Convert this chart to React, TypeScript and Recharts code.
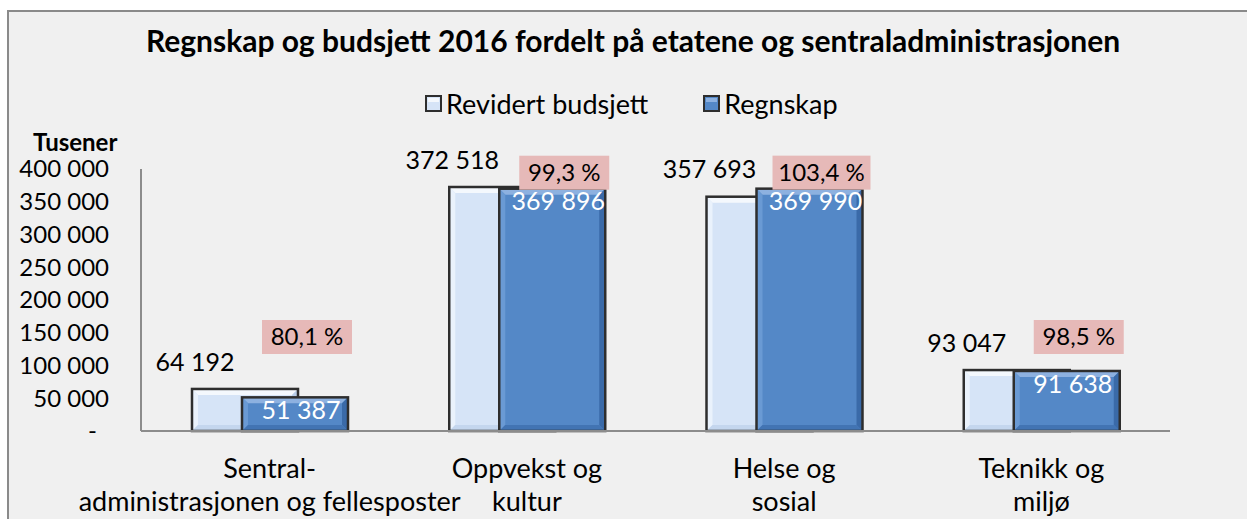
import React from 'react';
import { BarChart, Bar, XAxis, YAxis, Legend, LabelList } from 'recharts';

const categories = [
  'Sentral-\nadministrasjonen og fellesposter',
  'Oppvekst og\nkultur',
  'Helse og\nsosial',
  'Teknikk og\nmiljø',
];
const revidertBudsjett = [64192, 372518, 357693, 93047];
const regnskap = [51387, 369896, 369990, 91638];
const andel = ['80,1 %', '99,3 %', '103,4 %', '98,5 %'];
const seriesNames = ['Revidert budsjett', 'Regnskap'];
const yTicks = [0, 50000, 100000, 150000, 200000, 250000, 300000, 350000, 400000];

const FONT = 'Lato, "Open Sans", sans-serif';

const data = categories.map((name, i) => ({
  name,
  budsjett: revidertBudsjett[i],
  regnskap: regnskap[i],
  andel: andel[i],
}));

const fmt = (v: number) => String(v).replace(/\B(?=(\d{3})+(?!\d))/g, ' ');

// bevel colours per series
const LIGHT = { main: '#d6e4f7', top: '#f4f8fd', left: '#eaf2fc', right: '#b9cde8', bottom: '#c4d6ee' };
const DARK = { main: '#5488c7', top: '#8db1e0', left: '#6a9ad4', right: '#3a6aa8', bottom: '#4274b3' };

function BevelBar(props: any) {
  const { x, y, width: w, height: h, colors } = props;
  if (!h || h <= 0) return null;
  const b = Math.min(6, h / 3, w / 3);
  return (
    <g>
      <rect x={x} y={y} width={w} height={h} fill={colors.main} />
      <polygon points={`${x},${y} ${x + w},${y} ${x + w - b},${y + b} ${x + b},${y + b}`} fill={colors.top} />
      <polygon points={`${x},${y} ${x + b},${y + b} ${x + b},${y + h - b} ${x},${y + h}`} fill={colors.left} />
      <polygon points={`${x + w},${y} ${x + w},${y + h} ${x + w - b},${y + h - b} ${x + w - b},${y + b}`} fill={colors.right} />
      <polygon points={`${x},${y + h} ${x + w},${y + h} ${x + w - b},${y + h - b} ${x + b},${y + h - b}`} fill={colors.bottom} />
      <rect x={x} y={y} width={w} height={h} fill="none" stroke="#2e2e2e" strokeWidth={2.5} />
    </g>
  );
}

const box = (p: any) => {
  const vb = p.viewBox && p.viewBox.width !== undefined ? p.viewBox : p;
  return { x: Number(vb.x), y: Number(vb.y), width: Number(vb.width), height: Number(vb.height) };
};

const BudsjettLabel = (p: any) => {
  const { x, y } = box(p);
  return (
    <text x={x + 3} y={y - 27} dy="0.35em" textAnchor="middle" fontFamily={FONT} fontSize={25} fill="#000">
      {fmt(p.value)}
    </text>
  );
};

const RegnskapLabel = (p: any) => {
  const { x, y, width } = box(p);
  return (
    <text x={x + width / 2 + 6} y={y + 13} dy="0.35em" textAnchor="middle" fontFamily={FONT} fontSize={25} fill="#fff">
      {fmt(p.value)}
    </text>
  );
};

const AndelLabel = (p: any) => {
  const { x, y, width } = box(p);
  const text = String(p.value);
  const bw = text.length * 8 + 42;
  const cx = x + width / 2 + 12;
  const cy = Math.min(y - 16, 337);
  return (
    <g>
      <rect x={cx - bw / 2} y={cy - 17} width={bw} height={34} fill="#e6b9b8" />
      <text x={cx} y={cy} dy="0.35em" textAnchor="middle" fontFamily={FONT} fontSize={24} fill="#000">
        {text}
      </text>
    </g>
  );
};

const YTick = (p: any) => {
  const v = p.payload.value;
  return (
    <text x={v === 0 ? p.x - 12 : p.x} y={p.y} dy="0.35em" textAnchor="end" fontFamily={FONT} fontSize={24} fill="#000">
      {v === 0 ? '-' : fmt(v)}
    </text>
  );
};

const XTick = (p: any) => {
  const lines = String(p.payload.value).split('\n');
  return (
    <text x={p.x} y={p.y} textAnchor="middle" fontFamily={FONT} fontSize={27} fill="#000">
      {lines.map((l, i) => (
        <tspan key={i} x={p.x} y={p.y + 47 + i * 33}>
          {l}
        </tspan>
      ))}
    </text>
  );
};

const LegendIcon = ({ colors }: { colors: typeof LIGHT }) => (
  <svg width={17} height={17} style={{ display: 'block' }}>
    <rect x={1} y={1} width={15} height={15} fill={colors.main} stroke="#2e2e2e" strokeWidth={2} />
    <rect x={3} y={3} width={11} height={4} fill={colors.top} />
  </svg>
);

const renderLegend = () => (
  <div style={{ display: 'flex', alignItems: 'center', fontFamily: FONT, fontSize: 27, color: '#000', whiteSpace: 'nowrap' }}>
    {seriesNames.map((n, i) => (
      <div key={n} style={{ display: 'flex', alignItems: 'center', marginRight: i === 0 ? 55 : 0 }}>
        <LegendIcon colors={i === 0 ? LIGHT : DARK} />
        <span style={{ marginLeft: 4 }}>{n}</span>
      </div>
    ))}
  </div>
);

export default function App() {
  return (
    <div style={{ position: 'absolute', left: 0, top: 0, width: 1247, height: 519, overflow: 'hidden', background: '#fff' }}>
      <div
        style={{
          position: 'absolute',
          left: 7,
          top: 10,
          width: 1300,
          height: 600,
          background: '#f0f0f0',
          borderTop: '2px solid #8a8a8a',
          borderLeft: '2px solid #8a8a8a',
        }}
      />
      <div
        style={{
          position: 'absolute',
          left: 0,
          top: 22,
          width: 1266,
          textAlign: 'center',
          fontFamily: FONT,
          fontWeight: 700,
          fontSize: 30,
          lineHeight: '36px',
          color: '#000',
          whiteSpace: 'nowrap',
        }}
      >
        Regnskap og budsjett 2016 fordelt på etatene og sentraladministrasjonen
      </div>
      <div
        style={{
          position: 'absolute',
          left: 33,
          top: 130,
          fontFamily: FONT,
          fontWeight: 700,
          fontSize: 24,
          lineHeight: '24px',
          color: '#000',
        }}
      >
        Tusener
      </div>
      <div style={{ position: 'absolute', left: 0, top: 0 }}>
        <BarChart
          width={1247}
          height={519}
          data={data}
          margin={{ top: 169, right: 77, bottom: 0, left: 0 }}
          barGap={-56}
        >
          <XAxis
            dataKey="name"
            height={88}
            interval={0}
            tickSize={0}
            tickMargin={0}
            tick={<XTick />}
            axisLine={{ stroke: '#8c8c8c', strokeWidth: 2 }}
          />
          <YAxis
            width={141}
            domain={[0, 400000]}
            ticks={yTicks}
            tickSize={0}
            tickMargin={32}
            tick={<YTick />}
            axisLine={{ stroke: '#8c8c8c', strokeWidth: 2 }}
          />
          <Legend
            layout="horizontal"
            verticalAlign="middle"
            align="center"
            content={renderLegend}
            wrapperStyle={{ top: 87, left: 425, width: 'auto' }}
          />
          <Bar
            dataKey="budsjett"
            name={seriesNames[0]}
            barSize={106}
            isAnimationActive={false}
            shape={(p: any) => <BevelBar {...p} colors={LIGHT} />}
          >
            <LabelList dataKey="budsjett" content={BudsjettLabel} />
          </Bar>
          <Bar
            dataKey="regnskap"
            name={seriesNames[1]}
            barSize={106}
            isAnimationActive={false}
            shape={(p: any) => <BevelBar {...p} colors={DARK} />}
          >
            <LabelList dataKey="regnskap" content={RegnskapLabel} />
            <LabelList dataKey="andel" content={AndelLabel} />
          </Bar>
        </BarChart>
      </div>
    </div>
  );
}
